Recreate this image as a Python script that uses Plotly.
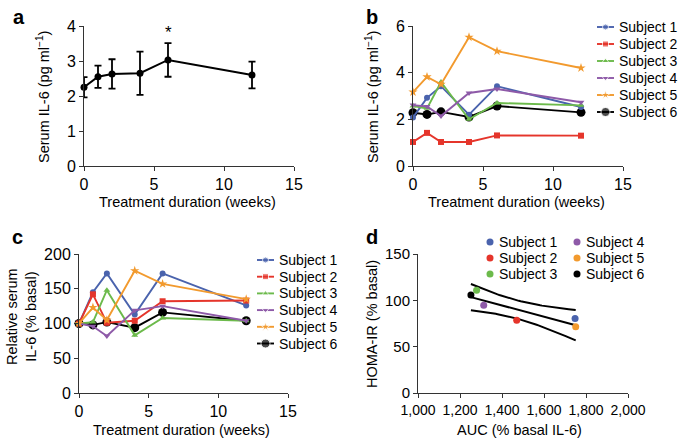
import numpy as np
import plotly.graph_objects as go

W, H = 686, 445

# ---------------- data ----------------
weeks = [0, 1, 2, 4, 6, 12]

# panel a: mean serum IL-6 with error
mean_il6 = [2.25, 2.55, 2.63, 2.65, 3.03, 2.60]
err_il6 = [0.29, 0.32, 0.42, 0.62, 0.48, 0.38]

subjects = ["Subject 1", "Subject 2", "Subject 3", "Subject 4", "Subject 5", "Subject 6"]
colors = ["#4A63AD", "#E5352B", "#6CBA4B", "#8E5AA8", "#F29A2E", "#000000"]
symbols = ["circle", "square", "triangle-up", "triangle-down", "star", "circle"]
msizes = [6, 6, 6, 6, 7, 9]

# panel b: serum IL-6 per subject (pg/ml)
il6_s1 = [2.08, 2.92, 3.42, 2.20, 3.42, 2.53]
il6_s2 = [1.03, 1.42, 1.03, 1.03, 1.31, 1.30]
il6_s3 = [2.57, 2.47, 3.60, 2.00, 2.70, 2.60]
il6_s4 = [2.61, 2.55, 2.14, 3.13, 3.30, 2.73]
il6_s5 = [3.17, 3.82, 3.50, 5.52, 4.92, 4.20]
il6_s6 = [2.28, 2.21, 2.32, 2.10, 2.57, 2.30]
il6_all = [il6_s1, il6_s2, il6_s3, il6_s4, il6_s5, il6_s6]

# panel c: relative serum IL-6 (% basal)
rel_s1 = [100, 145, 172, 113, 172, 126]
rel_s2 = [100, 142, 101, 104, 132, 133]
rel_s3 = [100, 102, 148, 83, 108, 104]
rel_s4 = [100, 96, 82, 119, 125, 104]
rel_s5 = [100, 123, 105, 176, 157, 135]
rel_s6 = [100, 98, 102, 94, 116, 104]
rel_all = [rel_s1, rel_s2, rel_s3, rel_s4, rel_s5, rel_s6]

# panel d: AUC vs HOMA-IR
auc = [1748, 1470, 1279, 1313, 1751, 1252]
homa = [80.4, 78.6, 110.9, 94.7, 71.4, 105.8]
T_CRIT = 2.776  # t(0.975, df=4)

# ---------------- helpers ----------------
def px_x(p):
    return p / W

def px_y(p):
    return 1 - p / H

AXCOL = "#333333"
FONT = "Liberation Sans, Arial, sans-serif"
TFS = 14.5   # titles
LFS = 14     # legend text

fig = go.Figure()

# panel a
fig.add_trace(go.Scatter(
    x=weeks, y=mean_il6, mode="lines+markers",
    line=dict(color="black", width=2),
    marker=dict(color="black", size=7),
    error_y=dict(type="data", array=err_il6, color="black", thickness=1.8, width=3.5),
    xaxis="x", yaxis="y", showlegend=False, cliponaxis=False))

order = [5, 0, 1, 2, 3, 4]  # black drawn underneath

# panel b
for i in order:
    fig.add_trace(go.Scatter(
        x=weeks, y=il6_all[i], mode="lines+markers", name=subjects[i],
        line=dict(color=colors[i], width=1.9),
        marker=dict(color=colors[i], symbol=symbols[i], size=msizes[i]),
        xaxis="x2", yaxis="y2", showlegend=False, cliponaxis=False))

# panel c
for i in order:
    fig.add_trace(go.Scatter(
        x=weeks, y=rel_all[i], mode="lines+markers", name=subjects[i],
        line=dict(color=colors[i], width=1.9),
        marker=dict(color=colors[i], symbol=symbols[i], size=msizes[i]),
        xaxis="x3", yaxis="y3", showlegend=False, cliponaxis=False))

# panel d regression + CI
xa = np.array(auc, dtype=float)
ya = np.array(homa, dtype=float)
n = len(xa)
slope, intercept = np.polyfit(xa, ya, 1)
resid = ya - (slope * xa + intercept)
s = np.sqrt(np.sum(resid ** 2) / (n - 2))
sxx = np.sum((xa - xa.mean()) ** 2)
xs = np.linspace(xa.min(), xa.max(), 60)
yfit = slope * xs + intercept
half = T_CRIT * s * np.sqrt(1 / n + (xs - xa.mean()) ** 2 / sxx)
for yy in (yfit + half, yfit, yfit - half):
    fig.add_trace(go.Scatter(x=xs, y=yy, mode="lines", line=dict(color="black", width=2),
                             xaxis="x4", yaxis="y4", showlegend=False, hoverinfo="skip"))
for i in range(6):
    fig.add_trace(go.Scatter(
        x=[auc[i]], y=[homa[i]], mode="markers", name=subjects[i],
        marker=dict(color=colors[i], size=7),
        xaxis="x4", yaxis="y4", showlegend=False, cliponaxis=False))

# ---------------- legends (keys on a pixel-space overlay axis) ----------------
def ann(text, x, y, size=TFS, angle=0, bold=False, xanchor="center", **kw):
    fig.add_annotation(text=("<b>%s</b>" % text) if bold else text,
                       x=px_x(x), y=px_y(y), xref="paper", yref="paper",
                       showarrow=False, textangle=angle, font=dict(size=size, color="black"),
                       xanchor=xanchor, yanchor="middle", **kw)

def line_legend(x0, y0, dy):
    for k in range(6):
        yr = y0 + dy * k
        fig.add_trace(go.Scatter(
            x=[x0, x0 + 8.5, x0 + 17], y=[yr, yr, yr], mode="lines+markers",
            line=dict(color=colors[k], width=1.9),
            marker=dict(color=colors[k], symbol=symbols[k], size=[0, msizes[k], 0]),
            xaxis="x5", yaxis="y5", showlegend=False, hoverinfo="skip"))
        ann(subjects[k], x0 + 20, yr, size=LFS, xanchor="left")

def dot_legend(xcols, y0, dy):
    for k in range(6):
        col, row = divmod(k, 3)
        yr = y0 + dy * row
        fig.add_trace(go.Scatter(
            x=[xcols[col]], y=[yr], mode="markers",
            marker=dict(color=colors[k], size=7),
            xaxis="x5", yaxis="y5", showlegend=False, hoverinfo="skip"))
        ann(subjects[k], xcols[col] + 7, yr, size=LFS, xanchor="left")

line_legend(597, 27, 17)
line_legend(257, 260, 16.7)
dot_legend([490, 577], 242, 16)

def axis(dom, rng, dtick, anchor, fs, fmt=None):
    d = dict(domain=dom, range=rng, dtick=dtick, tick0=rng[0], anchor=anchor,
             showline=True, linecolor=AXCOL, linewidth=1, ticks="outside", ticklen=4,
             tickcolor=AXCOL, showgrid=False, zeroline=False, automargin=False,
             tickfont=dict(size=fs, color="black", family=FONT))
    if fmt:
        d["tickformat"] = fmt
    return d

ya_dom = [px_y(166), px_y(26)]
yc_dom = [px_y(393), px_y(254)]

layout = dict(
    width=W, height=H, autosize=False, showlegend=False,
    margin=dict(l=0, r=0, t=0, b=0, pad=0),
    paper_bgcolor="white", plot_bgcolor="rgba(0,0,0,0)",
    font=dict(family=FONT, size=TFS, color="black"),
    xaxis=axis([px_x(84), px_x(294)], [0, 15], 5, "y", 16),
    yaxis=axis(ya_dom, [0, 4], 1, "x", 16),
    xaxis2=axis([px_x(413), px_x(623)], [0, 15], 5, "y2", 16),
    yaxis2=axis(ya_dom, [0, 6], 2, "x2", 16),
    xaxis3=axis([px_x(79), px_x(288)], [0, 15], 5, "y3", 16),
    yaxis3=axis(yc_dom, [0, 200], 50, "x3", 16),
    xaxis4=axis([px_x(418), px_x(628)], [1000, 2000], 200, "y4", 14, fmt=","),
    yaxis4=axis(yc_dom, [0, 150], 50, "x4", 15),
    xaxis5=dict(domain=[0, 1], range=[0, W], visible=False, anchor="y5",
                fixedrange=True, automargin=False),
    yaxis5=dict(domain=[0, 1], range=[H, 0], visible=False, anchor="x5",
                fixedrange=True, automargin=False),
)
fig.update_layout(**layout)

# panel letters
ann("a", 19, 17, size=20, bold=True)
ann("b", 372, 17, size=20, bold=True)
ann("c", 17, 237, size=20, bold=True)
ann("d", 372, 237, size=20, bold=True)

# axis titles
ann("Treatment duration (weeks)", 188, 202)
ann("Treatment duration (weeks)", 516, 202)
ann("Treatment duration (weeks)", 181, 430)
ann("AUC (% basal IL-6)", 519, 430)
ann("Serum IL-6 (pg ml<sup>−1</sup>)", 43, 97, angle=-90)
ann("Serum IL-6 (pg ml<sup>−1</sup>)", 372, 97, angle=-90)
ann("Relative serum<br>IL-6 (% basal)", 21, 317, angle=-90)
ann("HOMA-IR (% basal)", 372, 324, angle=-90)

# significance asterisk on panel a
fig.add_annotation(text="*", x=6, y=3.82, xref="x", yref="y", showarrow=False,
                   font=dict(size=17, color="black"), yanchor="middle")

fig.write_html("out.html", config={"displayModeBar": False},
               post_script="document.body.style.margin='0';"
                           "document.body.style.overflow='hidden';")
